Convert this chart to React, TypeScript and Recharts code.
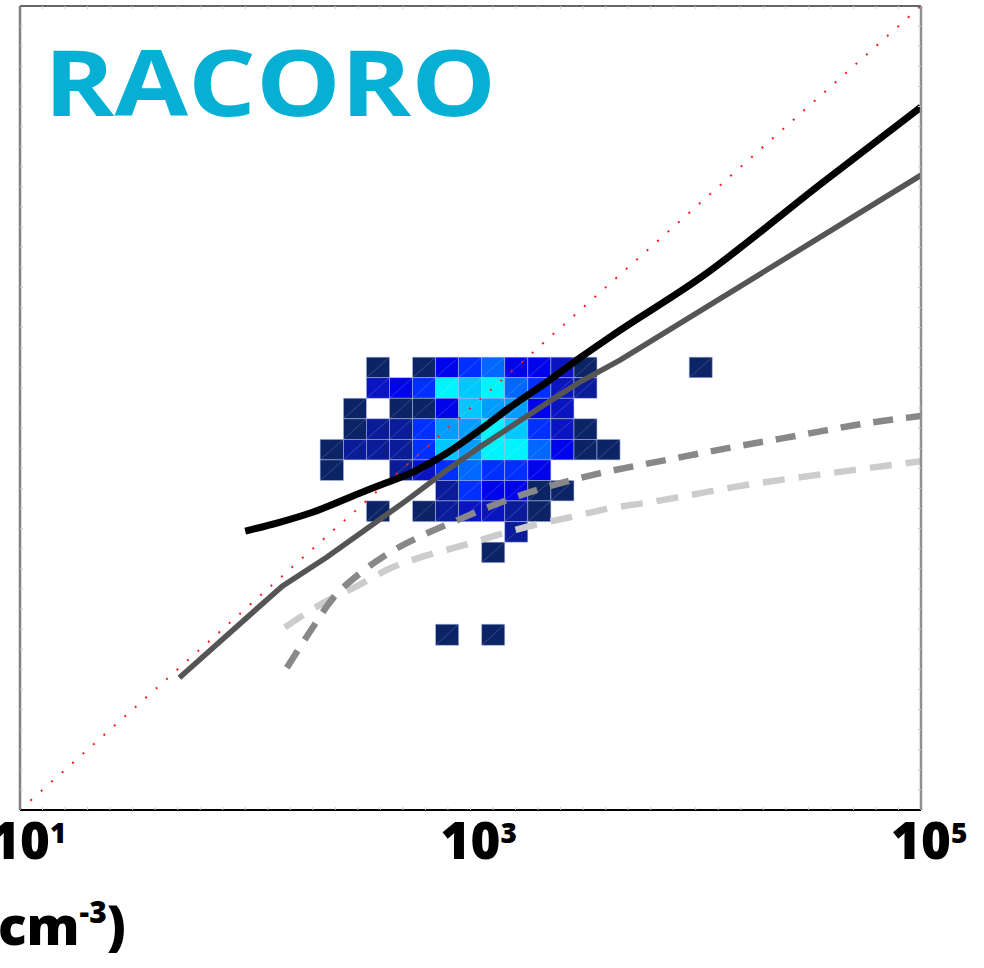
import { ComposedChart, Line, XAxis, YAxis, ReferenceArea } from 'recharts'

// ── Data ─────────────────────────────────────────────────
// bin edges of the 2D histogram (cm-3), log-spaced
const X_EDGES = [215, 273, 345, 437, 553, 700, 886, 1121, 1419, 1796, 2274, 2879, 3643, 4612, 5838, 7390, 9352, 11835]
const Y_EDGES = [1790, 1415, 1118, 884, 698, 552, 436, 345, 272, 215, 170, 134, 106, 84, 66]

// occurrence level per cell (row 0 = top), '.' = empty
const HEAT_ROWS = [
  '..1.14564431....1',
  '..3459896532.....',
  '.1.11487743......',
  '.12257798531.....',
  '1222587996411....',
  '1..2356554.......',
  '.....254411......',
  '..1.123321.......',
  '........2........',
  '.......1.........',
  '.................',
  '.................',
  '.................',
  '.....1.1.........',
]

const LEVEL_COLORS = ['', '#0b2466', '#0a1c98', '#0a14c0', '#0004e8', '#0030ff', '#0068ff', '#009cff', '#00c8ff', '#00f4ff']

const ONE_TO_ONE_X = [10, 100000]
const ONE_TO_ONE_Y = [10, 100000]

const BLACK_X = [100, 142, 199, 322, 396, 555, 786, 1100, 1550, 2190, 3070, 4300, 10500, 36600, 100000]
const BLACK_Y = [244, 270, 303, 377, 413, 480, 597, 777, 1035, 1350, 1780, 2310, 4450, 13250, 31400]

const DARK_X = [51, 146, 230, 522, 786, 1100, 1550, 2190, 3070, 4630, 100000]
const DARK_Y = [45.5, 130, 181, 348, 491, 639, 823, 1060, 1350, 1735, 14400]

const MID_X = [153, 195, 245, 322, 438, 615, 871, 1260, 1780, 2580, 3770, 6970, 14700, 29300, 58100, 100000]
const MID_Y = [51, 78, 113, 150, 191, 233, 276, 328, 377, 427, 474, 544, 639, 734, 842, 912]

const LIGHT_X = [150, 221, 313, 438, 641, 926, 1310, 1900, 2770, 4180, 6290, 10500, 14700, 29300, 58100, 100000]
const LIGHT_Y = [81, 107, 130, 159, 185, 207, 233, 261, 286, 317, 340, 377, 404, 453, 502, 544]

const X_TICKS = [10, 1000, 100000]
// faint minor ticks every 0.1 decade
const MINOR_TICKS = Array.from({ length: 39 }, (_, i) => Math.pow(10, 1.1 + i * 0.1))

const FONT = "'Open Sans', 'DejaVu Sans', sans-serif"
const DOMAIN: [number, number] = [10, 100000]

function toPoints(xs: number[], ys: number[]) {
  return xs.map((x, i) => ({ x, y: ys[i] }))
}

const cells = HEAT_ROWS.flatMap((row, r) =>
  row.split('').map((ch, c) => ({ r, c, level: ch === '.' ? 0 : Number(ch) })).filter((d) => d.level > 0),
)

// ── Sub-components ───────────────────────────────────────
function HeatCell(props: any) {
  const { x, y, width, height, fill } = props
  if (width == null || height == null) return null
  return (
    <g>
      <rect x={x} y={y} width={width} height={height} fill={fill} stroke="rgba(170,180,225,0.7)" strokeWidth={0.8} />
      <line x1={x} y1={y + height} x2={x + width} y2={y} stroke="rgba(255,255,255,0.22)" strokeWidth={0.8} />
    </g>
  )
}

function DecadeTick(props: any) {
  const { x, y, payload } = props
  const exp = Math.round(Math.log10(payload.value))
  return (
    <g>
      <text x={x} y={y + 49} textAnchor="middle" fontSize={51} fontWeight={800} fontFamily={FONT} fill="#000">
        10
      </text>
      <text x={x + 30} y={y + 33} fontSize={28} fontWeight={800} fontFamily={FONT} fill="#000">
        {exp}
      </text>
    </g>
  )
}

const blank = () => ''
const minorLine = { stroke: '#cccccc', strokeWidth: 1 }

// ── Chart ────────────────────────────────────────────────
export default function App() {
  return (
    <div style={{ position: 'absolute', left: 0, top: 0, width: 984, height: 968, background: '#fff' }}>
      <ComposedChart width={984} height={968} margin={{ top: 6, right: 63, left: 20, bottom: 99 }}>
        <XAxis
          xAxisId="m"
          type="number"
          dataKey="x"
          scale="log"
          domain={DOMAIN}
          allowDataOverflow
          ticks={MINOR_TICKS}
          tickFormatter={blank}
          tickLine={minorLine}
          tickSize={3}
          mirror
          height={1}
          axisLine={{ stroke: '#000', strokeWidth: 2 }}
        />
        <XAxis
          xAxisId="b"
          type="number"
          dataKey="x"
          scale="log"
          domain={DOMAIN}
          allowDataOverflow
          ticks={X_TICKS}
          tick={<DecadeTick />}
          tickLine={false}
          tickSize={0}
          tickMargin={0}
          height={59}
          axisLine={false}
        />
        <XAxis
          xAxisId="t"
          orientation="top"
          type="number"
          dataKey="x"
          scale="log"
          domain={DOMAIN}
          allowDataOverflow
          ticks={MINOR_TICKS}
          tickFormatter={blank}
          tickLine={minorLine}
          tickSize={3}
          mirror
          height={1}
          axisLine={{ stroke: '#333', strokeWidth: 1.5 }}
        />
        <YAxis
          yAxisId="l"
          type="number"
          dataKey="y"
          scale="log"
          domain={DOMAIN}
          allowDataOverflow
          ticks={MINOR_TICKS}
          tickFormatter={blank}
          tickLine={minorLine}
          tickSize={3}
          mirror
          width={1}
          axisLine={{ stroke: '#808080', strokeWidth: 2.5 }}
        />
        <YAxis
          yAxisId="r"
          orientation="right"
          type="number"
          dataKey="y"
          scale="log"
          domain={DOMAIN}
          allowDataOverflow
          ticks={MINOR_TICKS}
          tickFormatter={blank}
          tickLine={minorLine}
          tickSize={3}
          mirror
          width={1}
          axisLine={{ stroke: '#909090', strokeWidth: 2.5 }}
        />

        {cells.map((d) => (
          <ReferenceArea
            key={`${d.r}-${d.c}`}
            xAxisId="b"
            yAxisId="l"
            x1={X_EDGES[d.c]}
            x2={X_EDGES[d.c + 1]}
            y1={Y_EDGES[d.r + 1]}
            y2={Y_EDGES[d.r]}
            fill={LEVEL_COLORS[d.level]}
            fillOpacity={1}
            shape={<HeatCell />}
          />
        ))}

        <Line
          xAxisId="b"
          yAxisId="l"
          data={toPoints(ONE_TO_ONE_X, ONE_TO_ONE_Y)}
          dataKey="y"
          stroke="#ff1a1a"
          strokeWidth={2}
          strokeDasharray="2 12"
          dot={false}
          type="linear"
          isAnimationActive={false}
        />
        <Line
          xAxisId="b"
          yAxisId="l"
          data={toPoints(LIGHT_X, LIGHT_Y)}
          dataKey="y"
          stroke="#cccccc"
          strokeWidth={6.5}
          strokeDasharray="22 14"
          dot={false}
          type="monotone"
          isAnimationActive={false}
        />
        <Line
          xAxisId="b"
          yAxisId="l"
          data={toPoints(MID_X, MID_Y)}
          dataKey="y"
          stroke="#888888"
          strokeWidth={6.5}
          strokeDasharray="20 13"
          dot={false}
          type="monotone"
          isAnimationActive={false}
        />
        <Line
          xAxisId="b"
          yAxisId="l"
          data={toPoints(DARK_X, DARK_Y)}
          dataKey="y"
          stroke="#555555"
          strokeWidth={5.5}
          dot={false}
          type="linear"
          isAnimationActive={false}
        />
        <Line
          xAxisId="b"
          yAxisId="l"
          data={toPoints(BLACK_X, BLACK_Y)}
          dataKey="y"
          stroke="#000000"
          strokeWidth={7}
          dot={false}
          type="monotone"
          isAnimationActive={false}
        />

        <text
          x={44}
          y={116}
          fontSize={92}
          fontWeight={700}
          fontFamily={FONT}
          fill="#05b0d4"
          textLength={452}
          lengthAdjust="spacingAndGlyphs"
        >
          RACORO
        </text>
        <text x={-21} y={945} fontSize={53} fontWeight={800} fontFamily={FONT} fill="#000">
          (cm
          <tspan fontSize={30} dy={-22}>-3</tspan>
          <tspan dy={22}>)</tspan>
        </text>
      </ComposedChart>
    </div>
  )
}
